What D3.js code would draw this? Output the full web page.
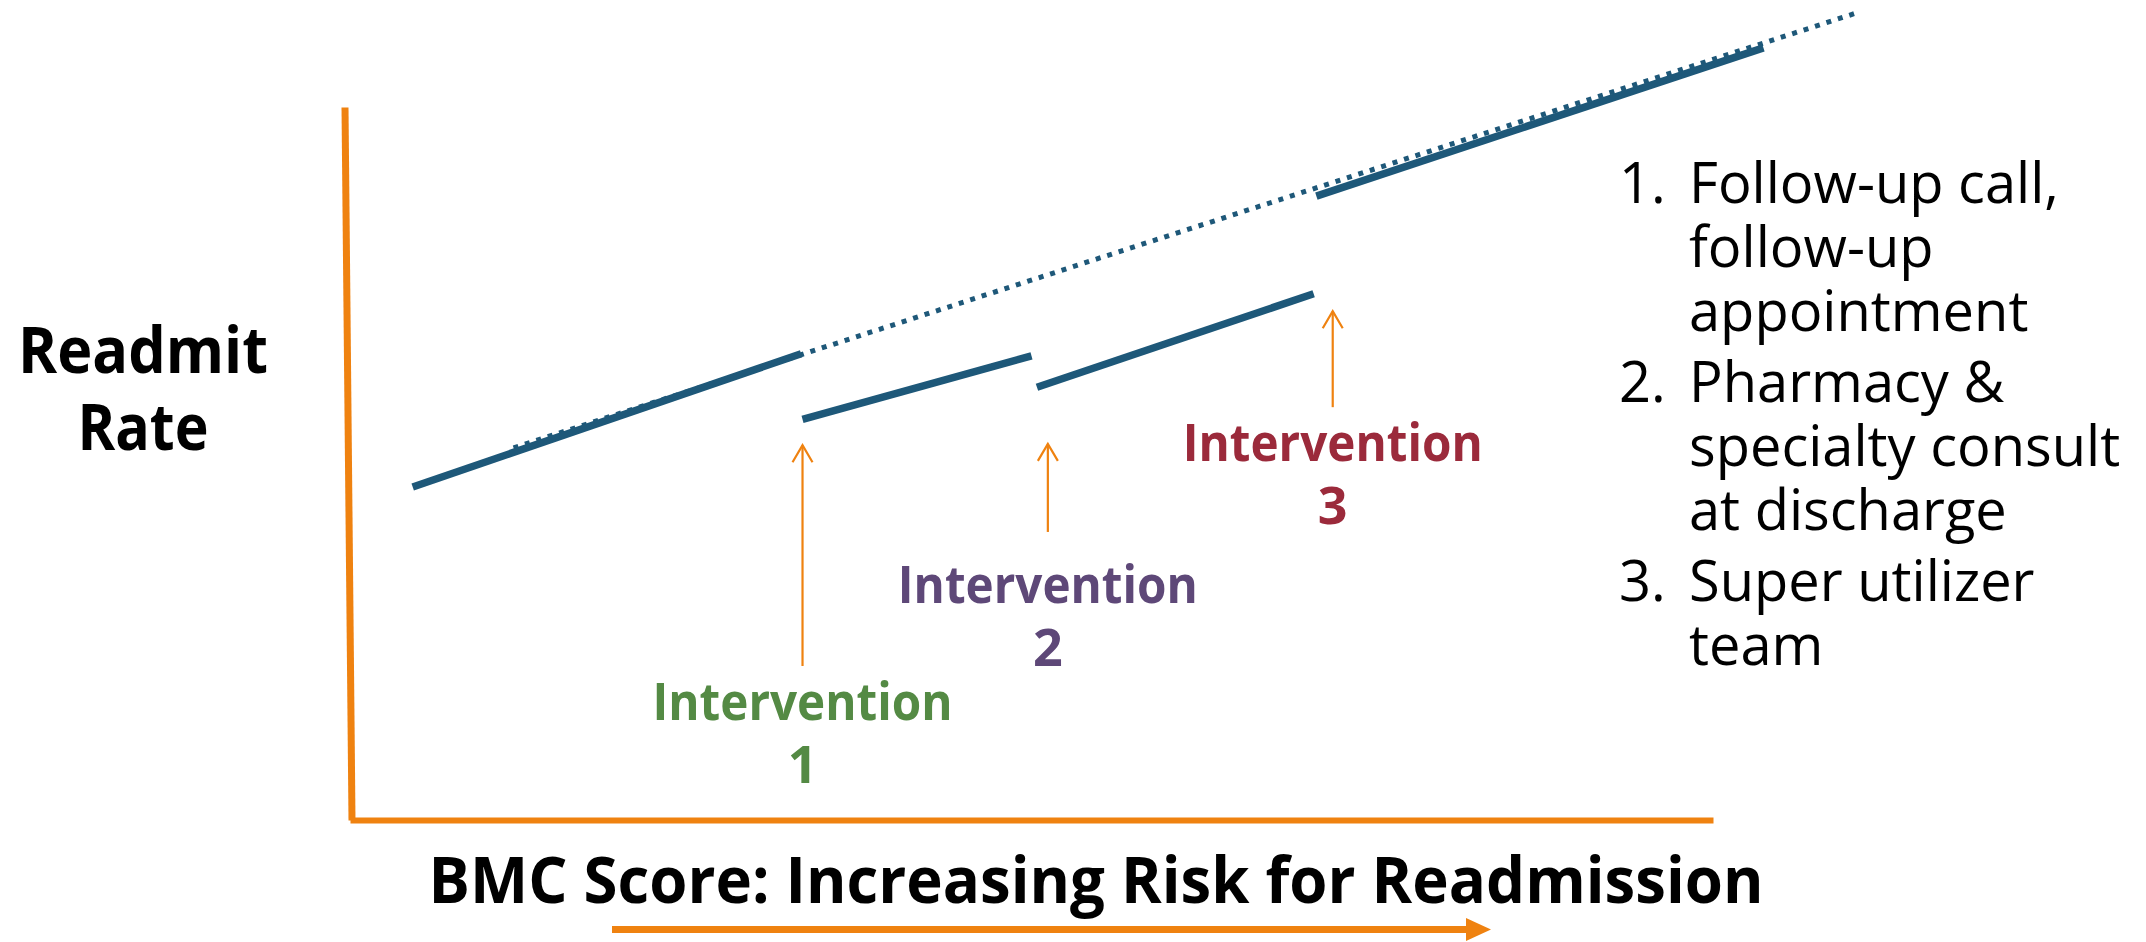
<!DOCTYPE html>
<html>
<head>
<meta charset="utf-8">
<script src="https://cdn.jsdelivr.net/npm/d3@7"></script>
<style>
  html, body { margin: 0; padding: 0; background: #ffffff; }
  svg { display: block; }
</style>
</head>
<body>
<svg id="chart" width="2146" height="942"></svg>
<script>
// Readmission rate vs. BMC score, in conceptual units (0–100 on each axis).

// Expected (untreated) trend, drawn dotted
const trendScore = [12.0, 110.7];
const trendRate  = [52.2, 113.3];

// Solid segments: baseline band, then the bands after each intervention
const segmentNames      = ["Baseline", "Intervention 1", "Intervention 2", "Intervention 3"];
const segmentStartScore = [4.6, 33.2, 50.4, 70.9];
const segmentEndScore   = [33.1, 50.0, 70.7, 103.7];
const segmentStartRate  = [46.7, 56.2, 60.7, 87.5];
const segmentEndRate    = [65.4, 65.1, 73.8, 108.3];

// Intervention markers
const interventionWords   = ["Intervention", "Intervention", "Intervention"];
const interventionNumbers = ["1", "2", "3"];
const interventionScore   = [33.2, 51.2, 72.1];
const arrowTipRate        = [52.7, 52.9, 71.5];
const arrowTailRate       = [21.6, 40.4, 57.9];
const labelRate           = [14.0, 30.4, 50.4];

// Key to the interventions
const keyNumbers = ["1.", "2.", "3."];
const keyLines = [
  ["Follow-up call,", "follow-up", "appointment"],
  ["Pharmacy &", "specialty consult", "at discharge"],
  ["Super utilizer", "team"]
];

const axisTitleX = "BMC Score: Increasing Risk for Readmission";
const axisTitleY = ["Readmit", "Rate"];

const ORANGE = "#EF8210";
const NAVY = "#1E5879";
const labelColors = ["#548A44", "#5E4878", "#9B2A3B"];

const svg = d3.select("#chart");

const x = d3.scaleLinear().domain([0, 100]).range([350, 1713]);
const y = d3.scaleLinear().domain([0, 100]).range([820, 107]);

// Axes: bare orange rules, no ticks
const xAxis = svg.append("g")
  .attr("transform", `translate(0,${y(0)})`)
  .call(d3.axisBottom(x).tickValues([]).tickSizeOuter(0));
xAxis.select(".domain").attr("stroke", ORANGE).attr("stroke-width", 6);

// The vertical rule leans very slightly to the right toward its foot
const lean = 7 / (y(0) - y(100));
const yAxis = svg.append("g")
  .attr("transform", `translate(${344.5 - lean * y(100)},0) skewX(${Math.atan(lean) * 180 / Math.PI})`)
  .call(d3.axisLeft(y).tickValues([]).tickSizeOuter(0));
yAxis.select(".domain").attr("stroke", ORANGE).attr("stroke-width", 7);

const line = d3.line().x(d => x(d[0])).y(d => y(d[1]));

// Dotted expected trend
svg.append("path")
  .datum(trendScore.map((s, i) => [s, trendRate[i]]))
  .attr("d", line)
  .attr("fill", "none")
  .attr("stroke", NAVY)
  .attr("stroke-width", 5)
  .attr("stroke-dasharray", "5 7");

// Solid segments
svg.append("g").selectAll("path")
  .data(segmentNames.map((n, i) => [[segmentStartScore[i], segmentStartRate[i]], [segmentEndScore[i], segmentEndRate[i]]]))
  .join("path")
  .attr("d", line)
  .attr("fill", "none")
  .attr("stroke", NAVY)
  .attr("stroke-width", 7.5);

// Intervention arrows
const arrows = svg.append("g").attr("fill", "none").attr("stroke", ORANGE).attr("stroke-width", 2.2);
interventionScore.forEach((s, i) => {
  const ax = x(s), tip = y(arrowTipRate[i]), tail = y(arrowTailRate[i]);
  arrows.append("line").attr("x1", ax).attr("x2", ax).attr("y1", tail).attr("y2", tip + 1);
  arrows.append("path").attr("d", `M${ax - 10},${tip + 18}L${ax},${tip + 1}L${ax + 10},${tip + 18}`);
});

// Intervention labels (two lines each, one text element)
const labels = svg.append("g")
  .attr("font-family", "'Open Sans', Lato, sans-serif")
  .attr("font-weight", 700)
  .attr("font-size", 52)
  .attr("text-anchor", "middle");
interventionScore.forEach((s, i) => {
  const cx = x(s);
  const t = labels.append("text")
    .attr("x", cx).attr("y", y(labelRate[i]))
    .attr("fill", labelColors[i]);
  t.append("tspan")
    .attr("x", cx)
    .attr("textLength", 300).attr("lengthAdjust", "spacingAndGlyphs")
    .text(interventionWords[i]);
  t.append("tspan")
    .attr("x", cx).attr("dy", 63)
    .text(interventionNumbers[i]);
});

// Axis titles
const titles = svg.append("g")
  .attr("font-family", "'Open Sans', Lato, sans-serif")
  .attr("font-weight", 700)
  .attr("font-size", 64)
  .attr("fill", "#000")
  .attr("text-anchor", "middle");
titles.append("text")
  .attr("x", 1096).attr("y", 903)
  .attr("textLength", 1335).attr("lengthAdjust", "spacingAndGlyphs")
  .text(axisTitleX);
const yTitle = titles.append("text").attr("x", 143).attr("y", 373);
yTitle.append("tspan").attr("x", 143)
  .attr("textLength", 250).attr("lengthAdjust", "spacingAndGlyphs")
  .text(axisTitleY[0]);
yTitle.append("tspan").attr("x", 143).attr("dy", 77)
  .attr("textLength", 131).attr("lengthAdjust", "spacingAndGlyphs")
  .text(axisTitleY[1]);

// Direction arrow under the x-axis title
svg.append("line")
  .attr("x1", 612).attr("x2", 1470)
  .attr("y1", 929.5).attr("y2", 929.5)
  .attr("stroke", ORANGE).attr("stroke-width", 7);
svg.append("path")
  .attr("d", "M1466,918L1491,929.5L1466,941Z")
  .attr("fill", ORANGE);

// Key: one text element per numbered item
const key = svg.append("g")
  .attr("font-family", "'Open Sans', Lato, sans-serif")
  .attr("font-size", 56)
  .attr("fill", "#000");
let baseline = 203;
keyLines.forEach((lines, i) => {
  const t = key.append("text").attr("x", 1619).attr("y", baseline);
  t.append("tspan").attr("x", 1619).text(keyNumbers[i]);
  lines.forEach((s, j) => {
    t.append("tspan")
      .attr("x", 1689)
      .attr("y", baseline + j * 64)
      .text(s);
  });
  baseline += lines.length * 64 + 7;
});
</script>
</body>
</html>
